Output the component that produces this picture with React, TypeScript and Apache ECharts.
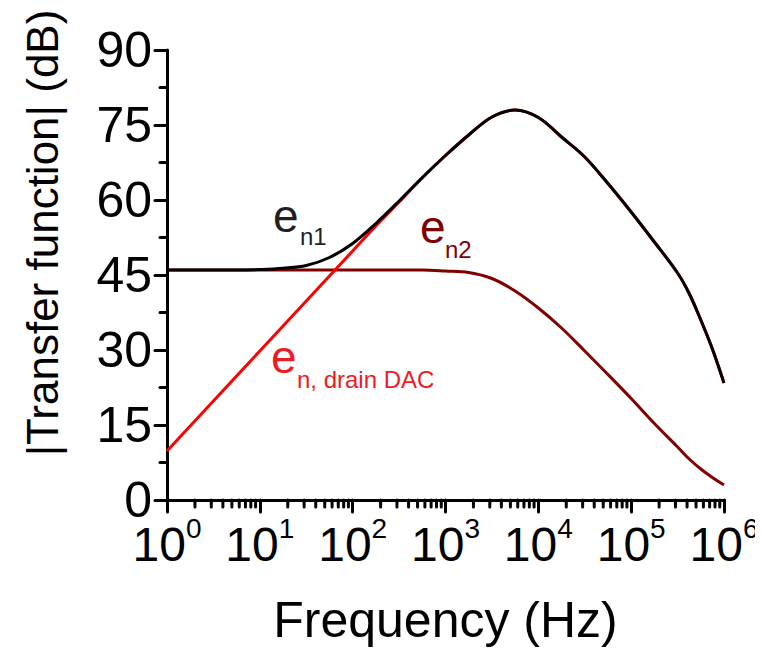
import React, { useEffect, useRef } from "react";
import * as echarts from "echarts";

// Frequency samples (Hz), quarter-decade spacing plus extra points near the end
const freqHz = [
  1, 1.778, 3.162, 5.623, 10, 17.78, 31.62, 56.23, 100, 177.8, 316.2, 562.3,
  1000, 1778, 3162, 5623, 10000, 17783, 31623, 56234, 100000, 177828, 316228,
  421697, 562341, 749894, 1000000,
];

// |Transfer function| (dB)
const en1 = [
  46, 46, 46, 46, 46.1, 46.35, 46.9, 48.5, 51.3, 55.3, 59.8, 64.5, 68.9, 73.0,
  76.6, 78.0, 76.5, 72.6, 68.6, 63.3, 57.6, 51.6, 45.4, 41.3, 36.0, 30.2, 23.4,
];
const en2 = [
  46, 46, 46, 46, 46, 46, 46, 46, 46, 46, 46, 46, 45.8, 45.5, 44.3, 41.8, 38.4,
  34.4, 29.8, 25.1, 20.3, 15.3, 10.6, 8.2, 6.2, 4.5, 3.0,
];
const enDrainDAC = [
  9.8, 14.8, 19.8, 24.8, 29.8, 34.8, 39.8, 44.8, 49.8, 54.8, 59.6, 64.4, 68.9,
  73.0, 76.6, 78.0, 76.5, 72.6, 68.6, 63.3, 57.6, 51.6, 45.4, 41.3, 36.0, 30.2,
  23.4,
];

const yTicks = [0, 15, 30, 45, 60, 75, 90];
const decades = [0, 1, 2, 3, 4, 5];
const minorMultipliers = [2, 3, 4, 5, 6, 7, 8, 9];

const FONT = "'Liberation Sans', Arial, Helvetica, sans-serif";

export default function App() {
  const ref = useRef<HTMLDivElement>(null);

  useEffect(() => {
    if (!ref.current) return;
    const chart = echarts.init(ref.current, undefined, { renderer: "svg" });

    const pairs = (ys: number[]) => freqHz.map((f, i) => [f, ys[i]]);
    // minor log tick frequencies (2..9 x 10^d)
    const minorTickFreqs: number[][] = [];
    decades.forEach((d) =>
      minorMultipliers.forEach((m) => minorTickFreqs.push([m * Math.pow(10, d), 0]))
    );

    const xLabelRich = {
      b: { fontSize: 48, fontFamily: FONT, color: "#000", lineHeight: 60 },
      s: { fontSize: 28, fontFamily: FONT, color: "#000", verticalAlign: "top" },
    };

    chart.setOption({
      animation: false,
      backgroundColor: "#fff",
      grid: { left: 159, right: 39, top: 42, bottom: 151, containLabel: false },
      xAxis: {
        type: "log",
        logBase: 10,
        min: 1,
        max: 1000000,
        interval: 1,
        position: "bottom",
        name: "Frequency (Hz)",
        nameLocation: "middle",
        nameGap: 95,
        nameTextStyle: { fontSize: 50, fontFamily: FONT, color: "#000" },
        axisLine: { show: true, lineStyle: { color: "#000", width: 3 } },
        axisTick: { show: true, length: 12, lineStyle: { color: "#000", width: 3, cap: "round" } },
        axisLabel: {
          margin: 14,
          formatter: (v: number) => `{b|10}{s|${Math.round(Math.log10(v))}}`,
          rich: xLabelRich,
        },
        splitLine: { show: false },
        minorTick: { show: false },
      },
      yAxis: {
        type: "value",
        min: 0,
        max: 90,
        interval: 15,
        axisLine: { show: true, lineStyle: { color: "#000", width: 3 } },
        axisTick: { show: true, length: 12, lineStyle: { color: "#000", width: 3, cap: "round" } },
        minorTick: { show: true, splitNumber: 2, length: 7, lineStyle: { color: "#000", width: 3, cap: "round" } },
        axisLabel: {
          margin: 15,
          fontSize: 50,
          fontFamily: FONT,
          color: "#000",
          customValues: yTicks,
        },
        splitLine: { show: false },
      },
      series: [
        {
          name: "minor ticks",
          type: "custom",
          clip: false,
          silent: true,
          data: minorTickFreqs,
          renderItem: (params: any, api: any) => {
            const p = api.coord([api.value(0), api.value(1)]);
            return {
              type: "line",
              shape: { x1: p[0], y1: p[1], x2: p[0], y2: p[1] + 7 },
              style: { stroke: "#000", lineWidth: 3, lineCap: "round" },
            };
          },
          z: 1,
        },
        {
          name: "en2",
          type: "line",
          data: pairs(en2),
          showSymbol: false,
          smooth: 0.35,
          lineStyle: { color: "#800000", width: 3 },
          itemStyle: { color: "#800000" },
          z: 2,
        },
        {
          name: "en, drain DAC",
          type: "line",
          data: pairs(enDrainDAC),
          showSymbol: false,
          smooth: 0.35,
          lineStyle: { color: "#ff0000", width: 3 },
          itemStyle: { color: "#ff0000" },
          z: 3,
        },
        {
          name: "en1",
          type: "line",
          data: pairs(en1),
          showSymbol: false,
          smooth: 0.35,
          lineStyle: { color: "#000", width: 3 },
          itemStyle: { color: "#000" },
          z: 4,
        },
      ],
      graphic: [
        {
          type: "text",
          x: 34,
          y: 225,
          rotation: Math.PI / 2,
          style: {
            text: "|Transfer function| (dB)",
            fontSize: 44,
            fontFamily: FONT,
            fill: "#000",
            align: "center",
            verticalAlign: "middle",
          },
        },
        // e_n1
        { type: "text", x: 265, y: 208, style: { text: "e", fontSize: 46, fontFamily: FONT, fill: "#231f20", verticalAlign: "middle" } },
        { type: "text", x: 292, y: 228, style: { text: "n1", fontSize: 24, fontFamily: FONT, fill: "#231f20", verticalAlign: "middle" } },
        // e_n2
        { type: "text", x: 412, y: 219, style: { text: "e", fontSize: 46, fontFamily: FONT, fill: "#800000", verticalAlign: "middle" } },
        { type: "text", x: 437, y: 241, style: { text: "n2", fontSize: 24, fontFamily: FONT, fill: "#800000", verticalAlign: "middle" } },
        // e_n, drain DAC
        { type: "text", x: 263, y: 349, style: { text: "e", fontSize: 46, fontFamily: FONT, fill: "#ed1c24", verticalAlign: "middle" } },
        { type: "text", x: 289, y: 371, style: { text: "n, drain DAC", fontSize: 24, fontFamily: FONT, fill: "#ed1c24", verticalAlign: "middle" } },
      ],
    });

    return () => chart.dispose();
  }, []);

  return <div ref={ref} style={{ width: 755, height: 643 }} />;
}
